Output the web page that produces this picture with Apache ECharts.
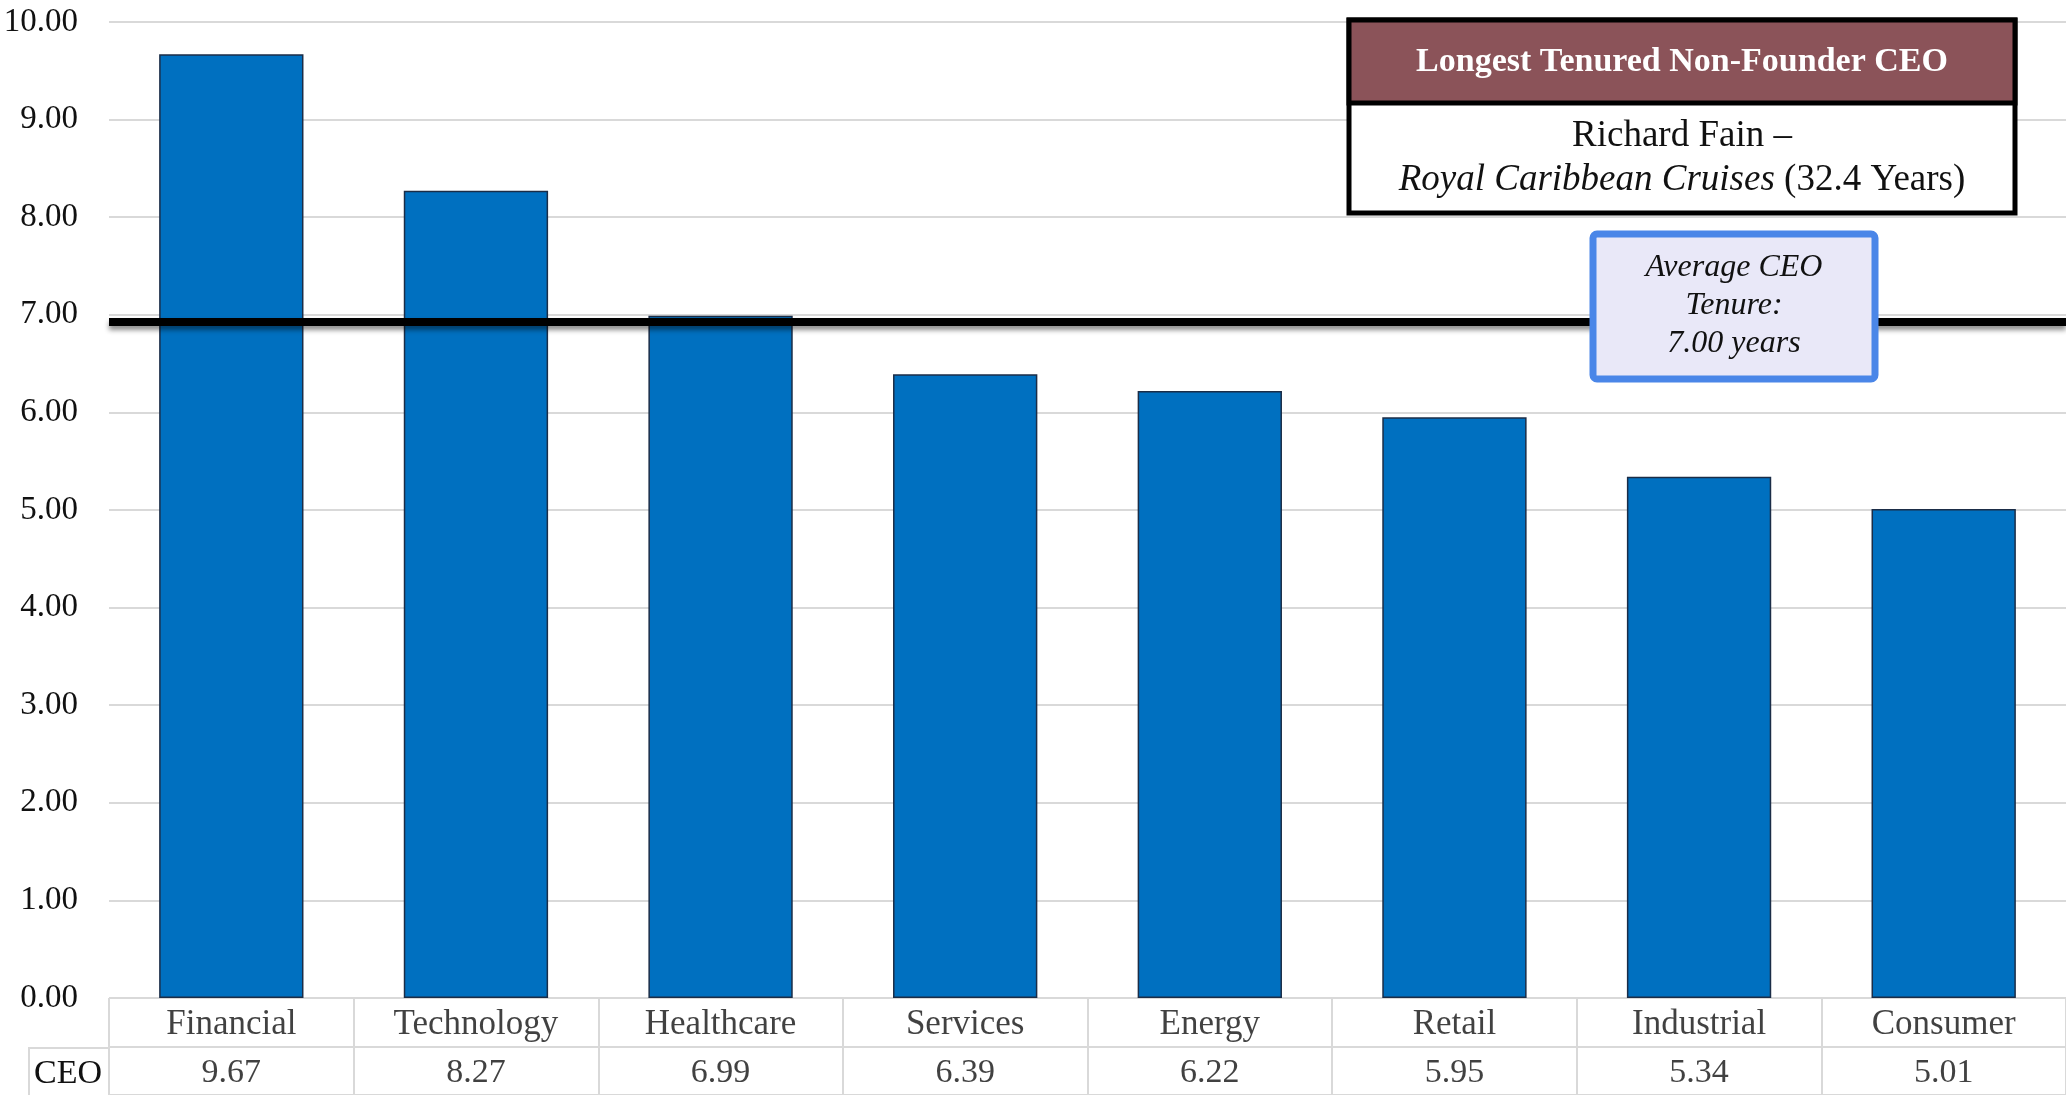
<!DOCTYPE html>
<html>
<head>
<meta charset="utf-8">
<script src="https://cdn.jsdelivr.net/npm/echarts@6/dist/echarts.min.js"></script>
<style>
html,body{margin:0;padding:0;background:#fff;}
#c{width:2066px;height:1095px;}
</style>
</head>
<body>
<div id="c"></div>
<script>
const categories = ['Financial','Technology','Healthcare','Services','Energy','Retail','Industrial','Consumer'];
const ceoTenure = [9.67, 8.27, 6.99, 6.39, 6.22, 5.95, 5.34, 5.01];
const seriesName = 'CEO';
const avgLineValue = [6.93];
const avgLabel = ['Average CEO', 'Tenure:', '7.00 years'];
const boxTitle = 'Longest Tenured Non-Founder CEO';
const boxLine1 = 'Richard Fain –';
const boxLine2Italic = 'Royal Caribbean Cruises';
const boxLine2Rest = ' (32.4 Years)';

const FONT = "'Liberation Serif', 'Times New Roman', serif";
const TXT = '#111111';
const chart = echarts.init(document.getElementById('c'), null, {renderer: 'canvas'});

const option = {
  animation: false,
  backgroundColor: '#ffffff',
  grid: [
    {left: 109, right: 0, top: 22, bottom: 97, containLabel: false},
    {left: 109, right: 0, top: 998, height: 100, containLabel: false}
  ],
  xAxis: [
    {type: 'category', gridIndex: 0, data: categories, boundaryGap: true,
     axisLine: {show: false}, axisTick: {show: false}, axisLabel: {show: false}, splitLine: {show: false}},
    {type: 'category', gridIndex: 1, data: categories, boundaryGap: true,
     axisLine: {show: false}, axisTick: {show: false}, axisLabel: {show: false},
     splitLine: {show: true, lineStyle: {color: '#d9d9d9', width: 2}}}
  ],
  yAxis: [
    {type: 'value', gridIndex: 0, min: 0, max: 10, interval: 1,
     axisLine: {show: false}, axisTick: {show: false},
     axisLabel: {formatter: v => v.toFixed(2), fontFamily: FONT, fontSize: 33, color: TXT, margin: 31},
     splitLine: {show: true, lineStyle: {color: '#d9d9d9', width: 2}}},
    {type: 'value', gridIndex: 1, min: 0, max: 2, interval: 1,
     axisLine: {show: false}, axisTick: {show: false}, axisLabel: {show: false},
     splitLine: {show: true, lineStyle: {color: '#d9d9d9', width: 2}}}
  ],
  series: [
    {
      name: seriesName, type: 'bar', xAxisIndex: 0, yAxisIndex: 0,
      data: ceoTenure, barWidth: '59%',
      itemStyle: {color: '#0070c0', borderColor: '#1b2d47', borderWidth: 1.5},
      markLine: {
        silent: true, symbol: ['none', 'none'], label: {show: false},
        lineStyle: {color: '#000', width: 8, type: 'solid',
          shadowColor: 'rgba(0,0,0,0.45)', shadowBlur: 5, shadowOffsetY: 4},
        data: [{yAxis: avgLineValue[0]}]
      },
      z: 2
    },
    {
      type: 'scatter', xAxisIndex: 1, yAxisIndex: 1, symbolSize: 1,
      itemStyle: {color: 'rgba(0,0,0,0)'},
      data: categories.map(c => [c, 1.5]),
      label: {show: true, position: 'inside', offset: [0, 3], formatter: p => p.data[0],
        fontFamily: FONT, fontSize: 35, color: TXT},
      silent: true
    },
    {
      type: 'scatter', xAxisIndex: 1, yAxisIndex: 1, symbolSize: 1,
      itemStyle: {color: 'rgba(0,0,0,0)'},
      data: categories.map((c, i) => [c, 0.5, ceoTenure[i]]),
      label: {show: true, position: 'inside', offset: [0, 2], formatter: p => p.data[2].toFixed(2),
        fontFamily: FONT, fontSize: 34, color: TXT},
      silent: true
    }
  ],
  graphic: [
    {type: 'polyline', shape: {points: [[29, 1100], [29, 1048], [109, 1048]]},
     style: {stroke: '#d9d9d9', lineWidth: 2, fill: null}, z: 5},
    {type: 'text', x: 34, y: 1074, style: {text: seriesName, fontFamily: FONT, fontSize: 34,
      fill: TXT, verticalAlign: 'middle', align: 'left'}, z: 5},
    {type: 'rect', shape: {x: 1349, y: 20, width: 666, height: 193},
     style: {fill: '#ffffff', stroke: '#000', lineWidth: 5}, z: 10},
    {type: 'rect', shape: {x: 1349, y: 20, width: 666, height: 83},
     style: {fill: '#8b5359', stroke: '#000', lineWidth: 5}, z: 11},
    {type: 'text', x: 1682, y: 62, style: {text: boxTitle, fontFamily: FONT, fontWeight: 'bold',
      fontSize: 34, fill: '#ffffff', align: 'center', verticalAlign: 'middle'}, z: 12},
    {type: 'text', x: 1682, y: 136, style: {text: boxLine1, fontFamily: FONT,
      fontSize: 37, fill: TXT, align: 'center', verticalAlign: 'middle'}, z: 12},
    {type: 'text', x: 1682, y: 180, style: {
      text: '{i|' + boxLine2Italic + '}{n|' + boxLine2Rest + '}',
      align: 'center', verticalAlign: 'middle',
      rich: {
        i: {fontFamily: FONT, fontStyle: 'italic', fontSize: 37, fill: TXT},
        n: {fontFamily: FONT, fontSize: 37, fill: TXT}
      }}, z: 12},
    {type: 'rect', shape: {x: 1593, y: 234, width: 282, height: 145, r: 4},
     style: {fill: '#e9e8f8', stroke: '#4a86e8', lineWidth: 7}, z: 10},
    {type: 'text', x: 1734, y: 306, style: {text: avgLabel.join('\n'), fontFamily: FONT,
      fontStyle: 'italic', fontSize: 32, lineHeight: 38, fill: TXT,
      align: 'center', verticalAlign: 'middle'}, z: 12}
  ]
};
chart.setOption(option);
</script>
</body>
</html>
